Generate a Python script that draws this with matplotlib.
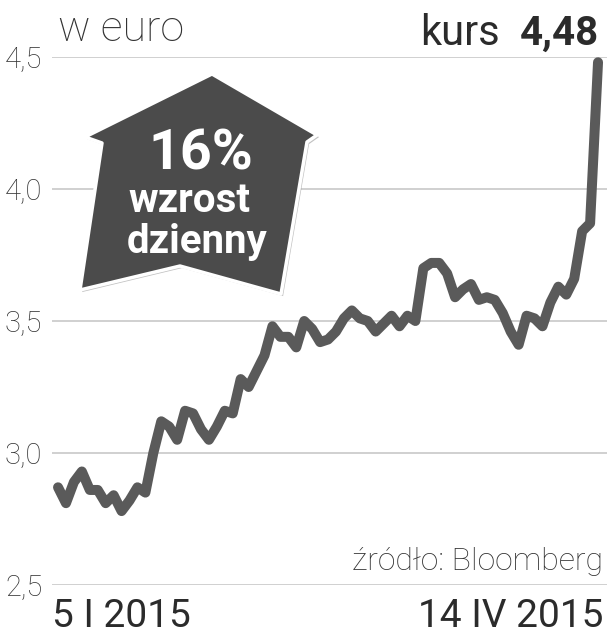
import matplotlib
matplotlib.use("Agg")
import matplotlib.pyplot as plt
import matplotlib.patheffects as pe
from matplotlib.patches import Polygon

# kurs w euro, 5 I 2015 - 14 IV 2015 (sesje)
kurs = [2.87, 2.81, 2.89, 2.93, 2.86, 2.86, 2.81, 2.84, 2.78, 2.82,
        2.87, 2.85, 3.00, 3.12, 3.10, 3.05, 3.16, 3.15, 3.09, 3.05,
        3.10, 3.16, 3.15, 3.28, 3.25, 3.31, 3.37, 3.48, 3.44, 3.44,
        3.40, 3.50, 3.47, 3.42, 3.43, 3.46, 3.51, 3.54, 3.51, 3.50,
        3.46, 3.49, 3.52, 3.48, 3.52, 3.50, 3.70, 3.72, 3.72, 3.68,
        3.59, 3.62, 3.64, 3.58, 3.59, 3.58, 3.53, 3.46, 3.41, 3.52,
        3.51, 3.48, 3.57, 3.63, 3.60, 3.66, 3.84, 3.87, 4.48]
sesje = list(range(len(kurs)))
yticks = [2.5, 3.0, 3.5, 4.0, 4.5]
ytick_labels = ["2,5", "3,0", "3,5", "4,0", "4,5"]
data_od = "5 I 2015"
data_do = "14 IV 2015"
ostatni = "4,48"

W, H = 616, 640
fig = plt.figure(figsize=(W / 100, H / 100), dpi=100)
fig.patch.set_facecolor("white")

# main chart
ax = fig.add_axes([52 / W, 1 - 585 / H, (607 - 52) / W, (585 - 57) / H])
ax.set_xlim(-0.76, len(kurs) - 1 + 1.13)
ax.set_ylim(2.5, 4.5)
ax.set_yticks(yticks)
ax.set_yticklabels(ytick_labels, fontsize=21, color="#333333",
                   family=["Roboto", "DejaVu Sans"], fontweight="light")
ax.set_xticks([])
ax.tick_params(axis="y", length=0, pad=7)
for s in ax.spines.values():
    s.set_visible(False)
ax.grid(axis="y", color="#c8c8c8", linewidth=1.2)
ax.set_axisbelow(True)
ax.plot(sesje, kurs, color="#5a5a5a", linewidth=7.2,
        solid_capstyle="round", solid_joinstyle="round", clip_on=False, zorder=3)

# overlay in pixel coords for the labels and the arrow box
ov = fig.add_axes([0, 0, 1, 1], zorder=5)
ov.set_xlim(0, W)
ov.set_ylim(H, 0)
ov.axis("off")

dark = "#2b2b2b"
ov.text(58, 41, "w euro", fontsize=31, color="#333333", fontweight="light",
        family=["Roboto", "DejaVu Sans"], ha="left", va="baseline")
ov.text(500, 45, "kurs", fontsize=30, color=dark,
        family=["Roboto", "DejaVu Sans"], ha="right", va="baseline")
ov.text(599, 45, ostatni, fontsize=29, color=dark, fontweight="bold",
        family=["Roboto", "DejaVu Sans"], ha="right", va="baseline")

ksztalt = [(212, 74), (317, 135), (307, 142), (281, 294), (180, 266),
           (80, 290), (102, 143), (85, 137)]
box = Polygon(ksztalt, closed=True, facecolor="#4b4b4b", edgecolor="white",
              linewidth=2.5, joinstyle="round")
box.set_path_effects([pe.SimplePatchShadow(offset=(1.5, -1.5), shadow_rgbFace="#999999", alpha=0.6),
                      pe.Normal()])
ov.add_patch(box)
ov.text(201, 169, "16%", fontsize=40, color="white", fontweight="bold",
        family=["Roboto", "DejaVu Sans"], ha="center", va="baseline")
ov.text(189, 212, "wzrost", fontsize=29, color="white", fontweight="bold",
        family=["Roboto", "DejaVu Sans"], ha="center", va="baseline")
ov.text(197, 253, "dzienny", fontsize=29, color="white", fontweight="bold",
        family=["Roboto", "DejaVu Sans"], ha="center", va="baseline")

ov.text(603, 570, "źródło: Bloomberg", fontsize=23, color="#333333", fontweight="light",
        family=["Roboto", "DejaVu Sans"], ha="right", va="baseline")
ov.text(52, 627, data_od, fontsize=28, color=dark,
        family=["Roboto", "DejaVu Sans"], ha="left", va="baseline")
ov.text(603, 627, data_do, fontsize=28, color=dark,
        family=["Roboto", "DejaVu Sans"], ha="right", va="baseline")

fig.savefig("out.png", dpi=100, facecolor="white")
